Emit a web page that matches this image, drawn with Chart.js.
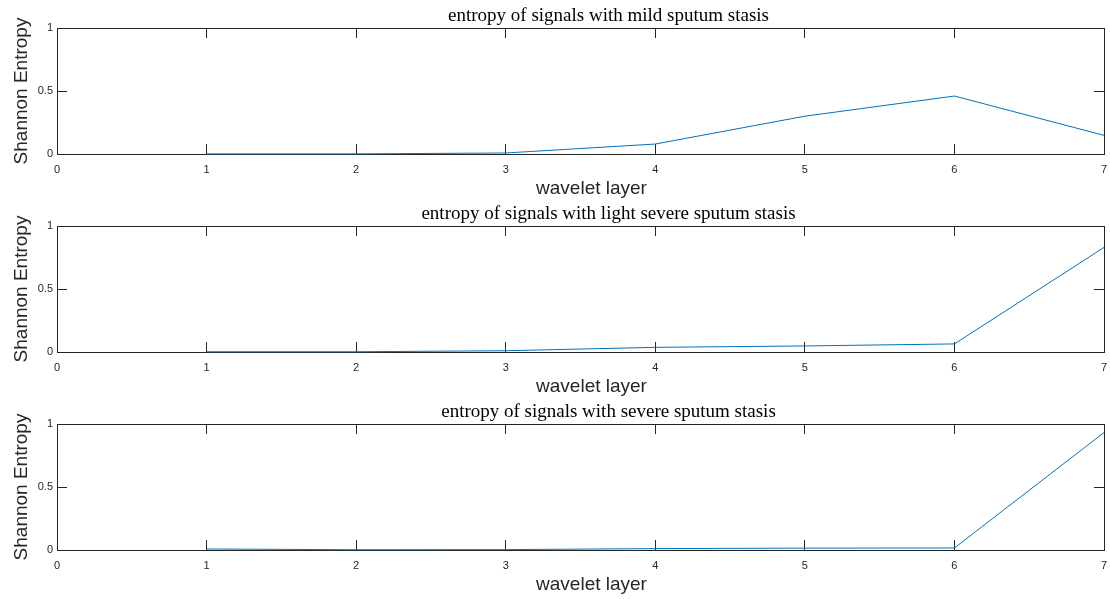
<!DOCTYPE html>
<html>
<head>
<meta charset="utf-8">
<script src="https://cdn.jsdelivr.net/npm/chart.js@4/dist/chart.umd.min.js"></script>
<style>
  html, body { margin: 0; padding: 0; background: #ffffff; }
  #wrap { position: relative; width: 1110px; height: 599px; overflow: hidden; background: #ffffff; }
  #wrap canvas { position: absolute; left: 0; }
</style>
</head>
<body>
<div id="wrap">
  <canvas id="c1" width="1110" height="200" style="top:0px"></canvas>
  <canvas id="c2" width="1110" height="200" style="top:198px"></canvas>
  <canvas id="c3" width="1110" height="200" style="top:396px"></canvas>
</div>
<script>
// Wavelet decomposition layers (x) and the Shannon entropy at each layer
const layers = [1, 2, 3, 4, 5, 6, 7];
const entropyMild = [0.001, 0.001, 0.008, 0.079, 0.30, 0.46, 0.148];
const entropyLightSevere = [0.002, 0.002, 0.01, 0.037, 0.048, 0.064, 0.83];
const entropySevere = [0.008, 0.002, 0.003, 0.011, 0.015, 0.016, 0.932];

const xTickValues = [0, 1, 2, 3, 4, 5, 6, 7];
const yTickValues = [0, 0.5, 1];

const titles = [
  'entropy of signals with mild sputum stasis',
  'entropy of signals with light severe sputum stasis',
  'entropy of signals with severe sputum stasis'
];
const xLabel = 'wavelet layer';
const yLabel = 'Shannon Entropy';

const AXIS_COLOR = '#262626';
const LINE_COLOR = '#0072BD';
const TICK_IN = -10;   // negative tick length draws ticks inward

// Serif title above each plot box and the x-axis caption below it
const plotText = {
  id: 'plotText',
  afterDraw(chart, args, opts) {
    const { ctx, chartArea } = chart;
    const mid = (chartArea.left + chartArea.right) / 2;
    ctx.save();
    ctx.textAlign = 'center';
    ctx.textBaseline = 'alphabetic';
    ctx.font = '19px "Liberation Serif", "Times New Roman", serif';
    ctx.fillStyle = '#000000';
    ctx.fillText(opts.title, mid + opts.titleShift, chartArea.top - 7);
    ctx.font = '19px "Liberation Sans", Arial, sans-serif';
    ctx.fillStyle = AXIS_COLOR;
    ctx.textBaseline = 'middle';
    ctx.fillText(opts.xLabel, mid + opts.xLabelShift, chartArea.bottom + 35);
    ctx.restore();
  }
};

function makeChart(canvasId, values, title) {
  const points = layers.map((x, i) => ({ x: x, y: values[i] }));
  const tickFont = { family: '"Liberation Sans", Arial, sans-serif', size: 11 };
  const labelFont = { family: '"Liberation Sans", Arial, sans-serif', size: 19, lineHeight: 1 };
  const boxGrid = {
    drawOnChartArea: false,
    drawTicks: true,
    tickLength: TICK_IN,
    color: AXIS_COLOR,
    lineWidth: 1
  };
  const border = { display: true, color: AXIS_COLOR, width: 1 };

  return new Chart(document.getElementById(canvasId), {
    type: 'line',
    data: {
      datasets: [{
        data: points,
        borderColor: LINE_COLOR,
        borderWidth: 1,
        pointRadius: 0,
        tension: 0,
        fill: false,
        clip: 3
      }]
    },
    options: {
      responsive: false,
      animation: false,
      events: [],
      layout: { padding: { top: 28, right: 6, bottom: 0, left: 0 } },
      plugins: {
        legend: { display: false },
        title: { display: false },
        tooltip: { enabled: false },
        plotText: { title: title, titleShift: 28, xLabel: xLabel, xLabelShift: 11 }
      },
      scales: {
        x: {
          type: 'linear',
          position: 'bottom',
          min: 0,
          max: 7,
          afterBuildTicks: s => { s.ticks = xTickValues.map(v => ({ value: v })); },
          afterFit: s => { s.height = 46; s.paddingLeft = 0; s.paddingRight = 0; },
          ticks: { color: AXIS_COLOR, font: tickFont, padding: 19, maxRotation: 0, autoSkip: false },
          grid: boxGrid,
          border: border
        },
        x2: {
          type: 'linear',
          position: 'top',
          min: 0,
          max: 7,
          afterBuildTicks: s => { s.ticks = xTickValues.map(v => ({ value: v })); },
          afterFit: s => { s.height = 0; s.paddingLeft = 0; s.paddingRight = 0; },
          ticks: { display: false },
          grid: boxGrid,
          border: border
        },
        y: {
          type: 'linear',
          position: 'left',
          min: 0,
          max: 1,
          afterBuildTicks: s => { s.ticks = yTickValues.map(v => ({ value: v })); },
          afterFit: s => { s.width = 57; },
          ticks: { color: AXIS_COLOR, font: tickFont, padding: 14, callback: v => String(v) },
          grid: boxGrid,
          border: border,
          title: { display: true, text: yLabel, color: AXIS_COLOR, font: labelFont, padding: { top: 12, bottom: 0 } }
        },
        y2: {
          type: 'linear',
          position: 'right',
          min: 0,
          max: 1,
          afterBuildTicks: s => { s.ticks = yTickValues.map(v => ({ value: v })); },
          afterFit: s => { s.width = 0; },
          ticks: { display: false },
          grid: boxGrid,
          border: border
        }
      }
    },
    plugins: [plotText]
  });
}

makeChart('c1', entropyMild, titles[0]);
makeChart('c2', entropyLightSevere, titles[1]);
makeChart('c3', entropySevere, titles[2]);
</script>
</body>
</html>
